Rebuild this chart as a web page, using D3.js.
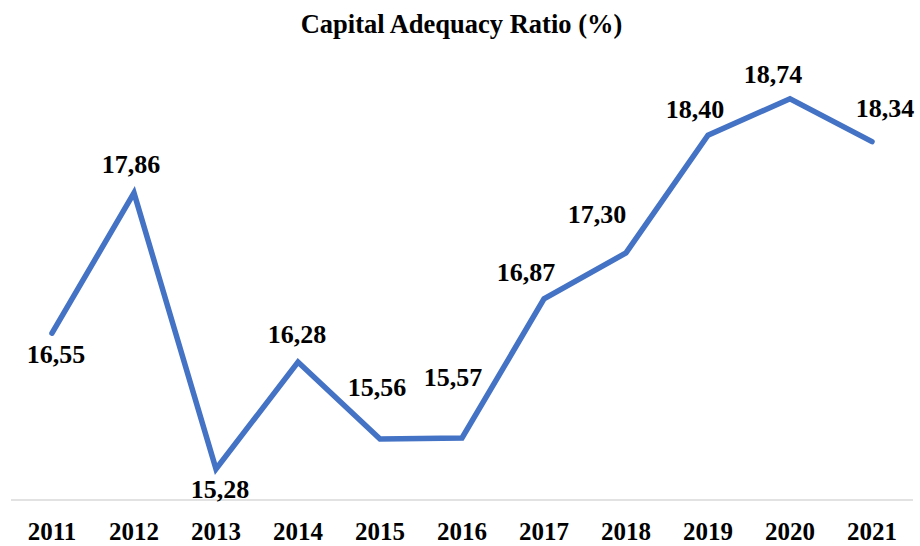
<!DOCTYPE html>
<html>
<head>
<meta charset="utf-8">
<script src="https://cdn.jsdelivr.net/npm/d3@7"></script>
<style>
  body { margin: 0; background: #fff; }
</style>
</head>
<body>
<div id="chart-area"></div>
<script>
// Datos
const years = ["2011", "2012", "2013", "2014", "2015", "2016", "2017", "2018", "2019", "2020", "2021"];
const car = [16.55, 17.86, 15.28, 16.28, 15.56, 15.57, 16.87, 17.30, 18.40, 18.74, 18.34];
const yDomain = [15, 19];

// Posición de las etiquetas (desplazamiento respecto al punto)
const labelDx = [4, -3, 4, -1, -3, -9, -18, -29, -13, -17, 13];
const labelDy = [30, -20, 29, -19, -43, -52, -18, -30, -17, -16, -25];

const width = 920, height = 546;
const font = "'Liberation Serif', 'Times New Roman', serif";

const svg = d3.select("#chart-area")
    .append("svg")
    .attr("width", width)
    .attr("height", height)
    .style("font-family", font)
    .style("font-weight", "bold");

// Escalas
const x = d3.scaleBand()
    .domain(years)
    .range([11, 913])
    .paddingInner(0)
    .paddingOuter(0);

const y = d3.scaleLinear()
    .domain(yDomain)
    .range([499, 71]);

const cx = d => x(d) + x.bandwidth() / 2;

// Título
svg.append("text")
    .attr("x", 461.5)
    .attr("y", 33)
    .attr("text-anchor", "middle")
    .style("font-size", "26.5px")
    .text("Capital Adequacy Ratio (%)");

// Eje X
svg.append("line")
    .attr("x1", 11)
    .attr("x2", 913)
    .attr("y1", 500)
    .attr("y2", 500)
    .attr("stroke", "#d9d9d9")
    .attr("stroke-width", 1.5);

svg.selectAll(".year")
    .data(years)
    .enter()
    .append("text")
    .attr("class", "year")
    .attr("x", d => cx(d))
    .attr("y", 540)
    .attr("text-anchor", "middle")
    .style("font-size", "25px")
    .text(d => d);

// Línea
const line = d3.line()
    .x((d, i) => cx(years[i]))
    .y(d => y(d));

svg.append("path")
    .datum(car)
    .attr("d", line)
    .attr("fill", "none")
    .attr("stroke", "#4472C4")
    .attr("stroke-width", 5.5)
    .attr("stroke-linecap", "round")
    .attr("stroke-linejoin", "miter");

// Etiquetas de datos
svg.selectAll(".lbl")
    .data(car)
    .enter()
    .append("text")
    .attr("class", "lbl")
    .attr("x", (d, i) => cx(years[i]) + labelDx[i])
    .attr("y", (d, i) => y(d) + labelDy[i])
    .attr("text-anchor", "middle")
    .style("font-size", "26px")
    .text(d => d.toFixed(2).replace(".", ","));
</script>
</body>
</html>
